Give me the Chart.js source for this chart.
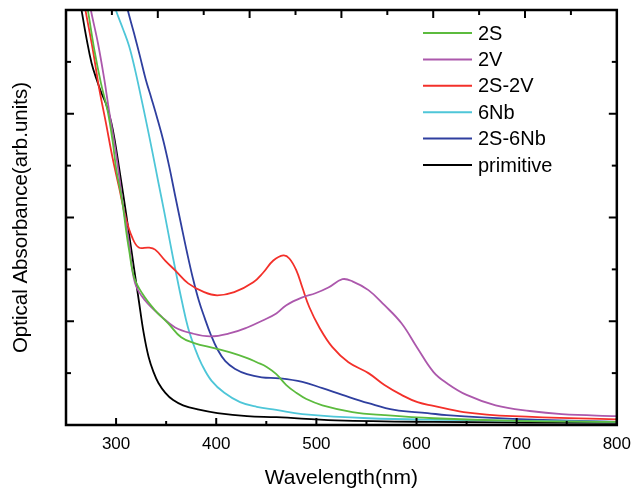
<!DOCTYPE html>
<html lang="en">
<head>
<meta charset="UTF-8">
<title>Optical Absorbance</title>
<script src="https://cdn.jsdelivr.net/npm/chart.js"></script>
<style>
  body { margin: 0; background: #fff; }
  #wrap { width: 640px; height: 492px; }
</style>
</head>
<body>
<div id="wrap"><canvas id="chart" width="640" height="492"></canvas></div>
<script>
// tick labels on the wavelength axis
const xTicks = [300, 400, 500, 600, 700, 800];

const seriesNames = ["2S", "2V", "2S-2V", "6Nb", "2S-6Nb", "primitive"];
const seriesColors = ["#5cbb3e", "#ac58ac", "#f3302a", "#4ec6d8", "#2f3f9f", "#000000"];

// wavelength (nm) / absorbance (arb. units)
const wl2S  = [269, 272, 278.5, 285, 291.5, 296.5, 300.4, 306, 310, 313, 318, 326, 339, 352, 365, 378, 398, 414, 431, 440.5, 450.4, 460, 470, 480, 490, 506, 536, 568, 617, 700, 800];
const abs2S = [8.3, 7.98, 7.21, 6.58, 6.06, 5.48, 4.9, 4.33, 3.75, 3.37, 2.85, 2.54, 2.21, 1.96, 1.69, 1.58, 1.48, 1.40, 1.29, 1.21, 1.12, 0.98, 0.77, 0.62, 0.50, 0.38, 0.25, 0.19, 0.13, 0.08, 0.06];

const wl2V  = [272, 275, 282, 288, 293, 299, 303, 307, 313, 319, 329, 346, 359, 375, 394, 414, 431, 447, 460, 470, 486, 499, 512, 526, 536, 552, 568, 585, 601, 617, 630, 650, 679, 713, 745, 800];
const abs2V = [8.3, 7.98, 7.35, 6.69, 6.06, 5.35, 4.81, 4.23, 3.5, 2.73, 2.4, 2.08, 1.88, 1.77, 1.71, 1.77, 1.88, 2.02, 2.15, 2.31, 2.46, 2.54, 2.65, 2.81, 2.77, 2.6, 2.31, 1.96, 1.48, 1.02, 0.81, 0.58, 0.38, 0.27, 0.21, 0.17];

const wl2S2V  = [266.6, 269.6, 277, 283, 290, 296.5, 303, 309.6, 316, 322.7, 332.5, 339, 349, 359, 372, 388, 401, 418, 437, 447, 457, 467, 473, 480, 486, 493, 503, 516, 532, 552, 568, 585, 601, 617, 647, 696, 800];
const abs2S2V = [8.3, 7.98, 7.21, 6.5, 5.81, 5.15, 4.58, 4.0, 3.62, 3.42, 3.42, 3.38, 3.17, 2.98, 2.73, 2.56, 2.5, 2.56, 2.75, 2.94, 3.17, 3.27, 3.21, 2.98, 2.65, 2.27, 1.88, 1.5, 1.21, 1.0, 0.77, 0.58, 0.44, 0.37, 0.25, 0.17, 0.11];

const wl6Nb  = [295, 300.1, 307, 312.9, 318.7, 324.6, 330.5, 336.4, 342.3, 348.2, 354.1, 360, 365.9, 371.8, 378.7, 385.5, 395.4, 408.1, 423.8, 440.5, 460, 486, 552, 627, 800];
const abs6Nb = [8.3, 7.98, 7.63, 7.31, 6.87, 6.35, 5.81, 5.25, 4.67, 4.10, 3.50, 2.92, 2.37, 1.88, 1.48, 1.17, 0.85, 0.62, 0.44, 0.35, 0.29, 0.21, 0.13, 0.1, 0.06];

const wl2S6Nb  = [308, 311.9, 317.8, 323.7, 329.5, 335.4, 341.3, 347.2, 353.1, 359, 364.9, 370.8, 376.7, 382.6, 388.5, 394.4, 401.2, 409.1, 418.9, 430.7, 445.4, 463, 486, 506, 526, 552, 578, 611, 630, 696, 800];
const abs2S6Nb = [8.3, 7.98, 7.56, 7.12, 6.67, 6.29, 5.90, 5.48, 4.98, 4.42, 3.87, 3.33, 2.83, 2.40, 2.06, 1.75, 1.46, 1.23, 1.08, 0.98, 0.92, 0.90, 0.83, 0.71, 0.58, 0.42, 0.29, 0.23, 0.19, 0.12, 0.06];

const wlPrim  = [263, 265.7, 270.6, 275.5, 280.4, 285.4, 290.3, 295.2, 299.1, 303, 307.9, 312.9, 317.8, 322.7, 327.6, 332.5, 337.4, 342.3, 349.2, 357, 366.9, 381.6, 401.2, 430.7, 460.2, 519.1, 617.3, 800];
const absPrim = [8.3, 7.98, 7.44, 6.98, 6.67, 6.40, 6.17, 5.83, 5.44, 4.96, 4.35, 3.69, 3.04, 2.40, 1.77, 1.31, 1.02, 0.81, 0.62, 0.48, 0.38, 0.30, 0.23, 0.17, 0.15, 0.09, 0.06, 0.04];

const seriesX = [wl2S, wl2V, wl2S2V, wl6Nb, wl2S6Nb, wlPrim];
const seriesY = [abs2S, abs2V, abs2S2V, abs6Nb, abs2S6Nb, absPrim];

const font = "'Liberation Sans', Arial, sans-serif";

const datasets = seriesNames.map((name, i) => ({
    label: name,
    data: seriesX[i].map((x, j) => ({ x: x, y: seriesY[i][j] })),
    borderColor: seriesColors[i],
    borderWidth: 1.8,
    pointRadius: 0,
    fill: false,
    tension: 0.4
}));

// frame, inward ticks on all four sides and the legend inside the plot
const framePlugin = {
    id: "frame",
    afterDraw(chart) {
        const { ctx, chartArea: a, scales } = chart;
        const x = scales.x, y = scales.y;
        ctx.save();
        ctx.strokeStyle = "#000";
        ctx.lineWidth = 2;
        const seg = (x1, y1, x2, y2) => {
            ctx.beginPath(); ctx.moveTo(x1, y1); ctx.lineTo(x2, y2); ctx.stroke();
        };
        for (let v = 250; v <= 800; v += 50) {
            const px = x.getPixelForValue(v);
            seg(px, a.bottom, px, a.bottom - (v % 100 === 0 ? 7 : 4));
        }
        for (let i = 1; i < 12; i++) {
            const px = a.left + i * (a.right - a.left) / 12;
            seg(px, a.top, px, a.top + (i % 2 === 0 ? 8 : 5));
        }
        for (let v = 1; v < 8; v++) {
            const py = y.getPixelForValue(v);
            const len = v % 2 === 0 ? 8 : 5;
            seg(a.left, py, a.left + len, py);
            seg(a.right, py, a.right - len, py);
        }
        ctx.lineWidth = 2.5;
        ctx.strokeRect(a.left, a.top, a.right - a.left, a.bottom - a.top);

        ctx.font = "20px " + font;
        ctx.textBaseline = "middle";
        ctx.fillStyle = "#000";
        chart.data.datasets.forEach((ds, i) => {
            const ly = 33 + i * 26.4;
            ctx.strokeStyle = ds.borderColor;
            ctx.lineWidth = 2;
            seg(423, ly, 472, ly);
            ctx.fillText(ds.label, 478, ly + 1);
        });
        ctx.restore();
    }
};

new Chart(document.getElementById("chart"), {
    type: "line",
    data: { datasets: datasets },
    options: {
        responsive: false,
        animation: false,
        layout: { padding: { top: 10, right: 14, left: 0, bottom: 0 } },
        plugins: { legend: { display: false }, tooltip: { enabled: false } },
        scales: {
            x: {
                type: "linear",
                min: 250,
                max: 800,
                afterBuildTicks: s => { s.ticks = xTicks.map(v => ({ value: v })); },
                afterFit: s => { s.height = 67; },
                grid: { display: false, drawTicks: false },
                border: { display: false },
                ticks: { color: "#000", padding: 9, maxRotation: 0, font: { family: font, size: 17 } },
                title: { display: true, text: "Wavelength(nm)", color: "#000", padding: { top: 0, bottom: 1 }, font: { family: font, size: 21 } }
            },
            y: {
                min: 0,
                max: 8,
                afterFit: s => { s.width = 66; },
                grid: { display: false, drawTicks: false },
                border: { display: false },
                ticks: { display: false, stepSize: 1 },
                title: { display: true, text: "Optical Absorbance(arb.units)", color: "#000", padding: { top: 9, bottom: 0 }, font: { family: font, size: 20.5 } }
            }
        }
    },
    plugins: [framePlugin]
});
</script>
</body>
</html>
